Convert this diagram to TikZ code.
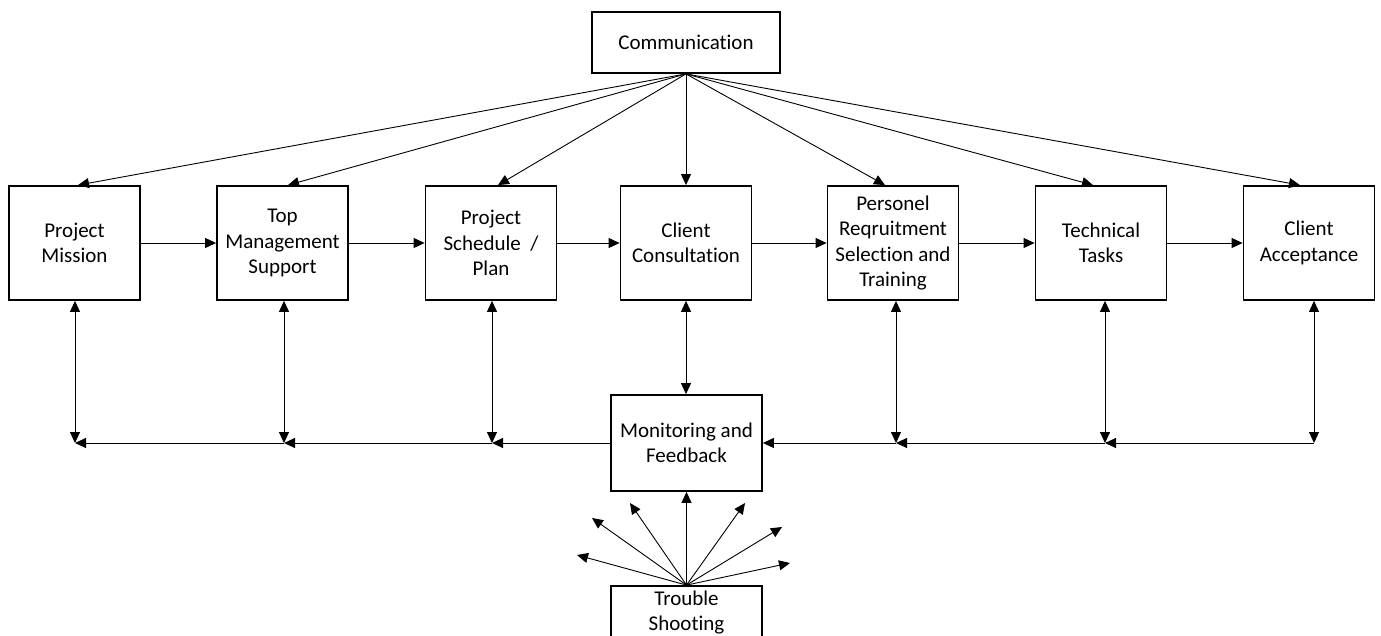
\documentclass[tikz,border=0pt]{standalone}
\usepackage{fontspec}
\setmainfont{Carlito}[Ligatures=NoCommon]
\usetikzlibrary{arrows.meta,calc}

\tikzset{
  box/.style={draw, line width=1.8pt, inner sep=0pt, align=center,
              font=\fontsize{21}{25.5}\selectfont},
  rowbox/.style={box, minimum width=131pt, minimum height=114pt},
  conn/.style={line width=0.9pt, -{Triangle[length=11pt,width=10pt]}},
  dbl/.style={line width=0.9pt, {Triangle[length=11pt,width=10pt]}-{Triangle[length=11pt,width=10pt]}},
  plain/.style={line width=0.9pt}
}

\begin{document}
\begin{tikzpicture}[x=1pt,y=-1pt]
\useasboundingbox (0,0) rectangle (1381,635);
\clip (0,0) rectangle (1381,635);

% top hub
\node[box, minimum width=188pt, minimum height=61pt] (comm) at (686,42.5) {Communication};

% main chain of stages
\node[rowbox] (pm) at (74.5,243)  {Project\\Mission};
\node[rowbox] (tm) at (282.5,243) {Top\\Management\\Support};
\node[rowbox] (ps) at (491,243)   {Project\\Schedule\ \ /\\Plan};
\node[rowbox] (cc) at (686,243)   {Client\\Consultation};
\node[rowbox] (pr) at (893,243)   {Personel\\Reqruitment\\Selection and\\Training};
\node[rowbox] (tt) at (1101,243)  {Technical\\Tasks};
\node[rowbox] (ca) at (1309,243)  {Client\\Acceptance};

% feedback and trouble shooting
\node[box, minimum width=151pt, minimum height=96pt] (mf) at (686.5,443) {Monitoring and\\Feedback};
\node[box, minimum width=151pt, minimum height=53pt] (ts) at (686.5,612.5) {Trouble\\Shooting};

% communication fan-out
\draw[conn] (comm.south) -- ([xshift=3.5pt]pm.north);
\draw[conn] (comm.south) -- ([xshift=5.5pt]tm.north);
\draw[conn] (comm.south) -- ([xshift=7pt]ps.north);
\draw[conn] (comm.south) -- (cc.north);
\draw[conn] (comm.south) -- ([xshift=-8pt]pr.north);
\draw[conn] (comm.south) -- ([xshift=-8pt]tt.north);
\draw[conn] (comm.south) -- ([xshift=-9pt]ca.north);

% stage sequence
\draw[conn] (pm.east) -- (tm.west);
\draw[conn] (tm.east) -- (ps.west);
\draw[conn] (ps.east) -- (cc.west);
\draw[conn] (cc.east) -- (pr.west);
\draw[conn] (pr.east) -- (tt.west);
\draw[conn] (tt.east) -- (ca.west);

% feedback bus
\coordinate (f1) at (75,443);
\coordinate (f2) at (284,443);
\coordinate (f3) at (492,443);
\coordinate (f5) at (896,443);
\coordinate (f6) at (1105,443);
\coordinate (f7) at (1314,443);

\draw[dbl] (pm.south -| f1) -- (f1);
\draw[dbl] (tm.south -| f2) -- (f2);
\draw[dbl] (ps.south -| f3) -- (f3);
\draw[dbl] (cc.south) -- (mf.north -| cc.south);
\draw[dbl] (pr.south -| f5) -- (f5);
\draw[dbl] (tt.south -| f6) -- (f6);
\draw[dbl] (ca.south -| f7) -- (f7);

\draw[conn] (mf.west) -- (f3);
\draw[conn] (f3) -- (f2);
\draw[conn] (f2) -- (f1);
\draw[conn] (f7) -- (f6);
\draw[conn] (f6) -- (f5);
\draw[conn] (f5) -- (mf.east);

% trouble shooting fan
\coordinate (t1) at (577,555);
\coordinate (t2) at (592,518);
\coordinate (t3) at (630,503);
\coordinate (t4) at (745,503);
\coordinate (t5) at (782,527);
\coordinate (t6) at (790,563);
\draw[conn] (ts.north) -- (t1);
\draw[conn] (ts.north) -- (t2);
\draw[conn] (ts.north) -- (t3);
\draw[conn] (ts.north) -- (mf.south);
\draw[conn] (ts.north) -- (t4);
\draw[conn] (ts.north) -- (t5);
\draw[conn] (ts.north) -- (t6);
\end{tikzpicture}
\end{document}
